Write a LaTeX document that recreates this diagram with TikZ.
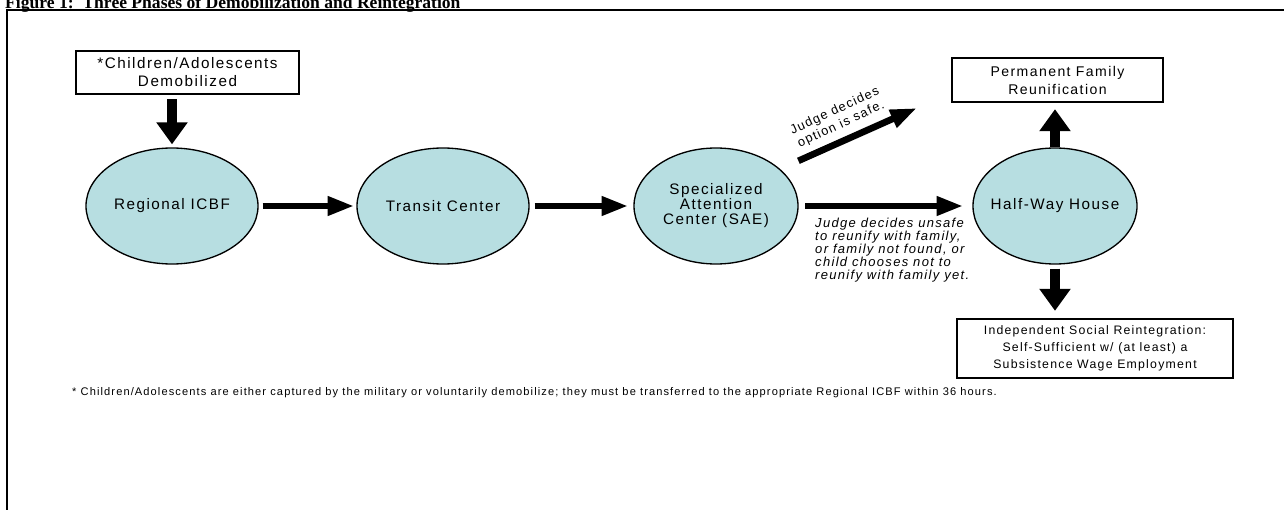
\documentclass[tikz,border=0pt]{standalone}
\usepackage{fontspec}
\setmainfont{Liberation Sans}[LetterSpace=10]
\newfontfamily\titlefont{Liberation Serif}
\usetikzlibrary{arrows.meta,shapes.geometric}
\definecolor{phasecyan}{RGB}{183,222,225}
\tikzset{
  phase/.style={ellipse, draw=black, line width=0.04cm, fill=phasecyan, inner xsep=-0.5cm, inner ysep=0pt,
    minimum width=5.16cm, minimum height=3.48cm, align=center, font=\fontsize{13}{12.8}\selectfont},
  outcome/.style={rectangle, draw=black, line width=0.07cm, inner sep=0pt, align=center},
  hfatarrow/.style={line width=0.2cm, -{Triangle[length=0.8cm, width=0.54cm]}},
  vfatarrow/.style={line width=0.32cm, -{Triangle[length=0.66cm, width=0.9cm]}},
}

\begin{document}
\begin{tikzpicture}[x=0.03cm, y=-0.03cm]
			%%%%% FRAME %%%%%
			\useasboundingbox (0, 0) rectangle (1284, 510);
			\draw[line width=0.08cm] (1320, 10) -- (7, 10) -- (7, 540);
			\node[anchor=base west, inner sep=0pt, font=\titlefont\bfseries\fontsize{15}{17}\selectfont] (title) at (5, 8.5)
				{Figure 1:\ \ Three Phases of Demobilization and Reintegration};
			
			%%%%% PHASES %%%%%
			\node[outcome, minimum width=6.69cm, minimum height=1.29cm, font=\fontsize{13}{15.4}\selectfont] (demob) at (187.5, 72.5)
				{*Children/Adolescents\\Demobilized};
			\node[phase] (reg) at (172, 206) {Regional ICBF};
			\node[phase] (tra) at (443, 206) {Transit Center};
			\node[phase, minimum width=4.92cm] (sae) at (716, 206) {Specialized\\Attention\\Center (SAE)};
			\node[phase, minimum width=4.92cm] (hwh) at (1055, 206) {Half-Way House};
			\node[outcome, minimum width=6.33cm, minimum height=1.32cm, font=\fontsize{12}{15.4}\selectfont] (perm) at (1057.5, 80)
				{Permanent Family\\Reunification};
			\node[outcome, minimum width=8.28cm, minimum height=1.77cm, font=\fontsize{10.5}{14.5}\selectfont] (ind) at (1095, 348.5)
				{Independent Social Reintegration:\\Self-Sufficient w/ (at least) a\\Subsistence Wage Employment};
			\coordinate (safe) at (917, 108);
			
			%%%%% ARROWS %%%%%
			\draw[vfatarrow, shorten <=0.12cm, shorten >=0.09cm] (demob.south -| reg.north) -- (reg.north);
			\draw[hfatarrow, shorten <=0.12cm, shorten >=0.06cm] (reg) -- (tra);
			\draw[hfatarrow, shorten <=0.15cm, shorten >=0.15cm] (tra) -- (sae);
			\draw[hfatarrow, shorten <=0.2cm, shorten >=0.27cm] (sae) -- (hwh);
			\draw[hfatarrow, shorten <=0.6cm] (sae.30) -- (safe);
			\draw[vfatarrow, shorten >=0.18cm] (hwh.north) -- (perm.south -| hwh.north);
			\draw[vfatarrow, shorten <=0.12cm, shorten >=0.21cm] (hwh.south) -- (ind.north -| hwh.south);
			
			%%%%% LABELS %%%%%
			\node[rotate=25, align=center, font=\fontsize{10.9}{12.5}\selectfont] (safelbl) at (838, 118) {Judge decides\\option is safe.};
			\node[anchor=north west, align=left, inner sep=0pt, font=\itshape\fontsize{11.1}{11.1}\selectfont] (unsafelbl) at (815, 218)
				{Judge decides unsafe\\to reunify with family,\\or family not found, or\\child chooses not to\\reunify with family yet.};
			\node[anchor=west, inner sep=0pt, font=\fontsize{9.45}{11}\selectfont] (note) at (72, 393)
				{* Children/Adolescents are either captured by the military or voluntarily demobilize; they must be transferred to the appropriate Regional ICBF within 36 hours.};
			
\end{tikzpicture}
\end{document}
